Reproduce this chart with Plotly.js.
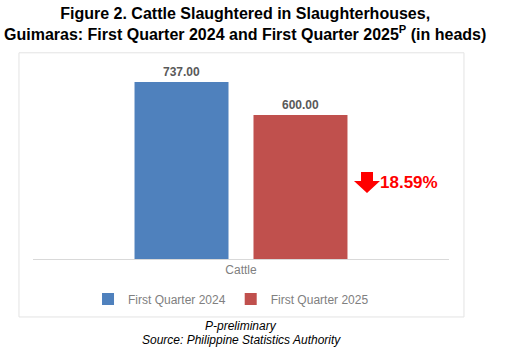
<!DOCTYPE html>
<html>
<head>
<meta charset="utf-8">
<script src="https://cdn.plot.ly/plotly-3.0.1.min.js"></script>
<style>html,body{margin:0;padding:0;background:#fff;}#chart{width:514px;height:364px;}</style>
</head>
<body>
<div id="chart"></div>
<script>
const categories = ["Cattle"];
const seriesNames = ["First Quarter 2024", "First Quarter 2025"];
const values2024 = [737];
const values2025 = [600];
const seriesColors = ["#4F81BD", "#C0504D"];
const changeLabel = "18.59%";

const traces = [
  {type: 'bar', name: seriesNames[0], x: categories, y: values2024, marker: {color: seriesColors[0]},
   texttemplate: '<b>%{y:.2f}</b>', textposition: 'outside', cliponaxis: false,
   textfont: {family: 'Arial, Liberation Sans', size: 12, color: '#595959'}, hoverinfo: 'none'},
  {type: 'bar', name: seriesNames[1], x: categories, y: values2025, marker: {color: seriesColors[1]},
   texttemplate: '<b>%{y:.2f}</b>', textposition: 'outside', cliponaxis: false,
   textfont: {family: 'Arial, Liberation Sans', size: 12, color: '#595959'}, hoverinfo: 'none'}
];

const layout = {
  width: 514, height: 364,
  margin: {l: 33, r: 65, t: 67, b: 105},
  paper_bgcolor: '#ffffff', plot_bgcolor: '#ffffff',
  font: {family: 'Arial, Liberation Sans, sans-serif', color: '#7f7f7f'},
  barmode: 'group', bargap: 0.428, bargroupgap: 0.21,
  xaxis: {range: [-0.5, 0.5], showline: true, linecolor: '#d9d9d9', linewidth: 1, ticks: '',
          tickfont: {size: 12, color: '#7f7f7f'}, showgrid: false, fixedrange: true},
  yaxis: {range: [0, 800], visible: false, showgrid: false, zeroline: false, fixedrange: true},
  showlegend: true,
  legend: {orientation: 'h', x: 0.476, xanchor: 'center', y: -0.208, yanchor: 'middle',
           font: {size: 12, color: '#808080'}, itemwidth: 30, traceorder: 'normal'},
  shapes: [
    {type: 'rect', xref: 'paper', yref: 'paper', x0: -0.0337, x1: 1.036, y0: -0.302, y1: 1.074,
     line: {color: '#e3e3e3', width: 1}, fillcolor: 'rgba(0,0,0,0)', layer: 'below'},
    {type: 'path', xref: 'paper', yref: 'paper',
     path: 'M0.7885,0.4531 L0.8173,0.4531 L0.8173,0.4063 L0.8341,0.4063 L0.8029,0.3438 L0.7716,0.4063 L0.7885,0.4063 Z',
     fillcolor: '#FF0000', line: {width: 0}}
  ],
  annotations: [
    {text: '<b>Figure 2. Cattle Slaughtered in Slaughterhouses,<br>Guimaras: First Quarter 2024 and First Quarter 2025<sup>P</sup> (in heads)</b>',
     xref: 'paper', yref: 'paper', x: 0.51, y: 1.224, xanchor: 'center', yanchor: 'middle', showarrow: false,
     font: {family: 'Arial, Liberation Sans', size: 16, color: '#000000'}},
    {text: '<b>' + changeLabel + '</b>', xref: 'paper', yref: 'paper', x: 0.905, y: 0.396,
     xanchor: 'center', yanchor: 'middle', showarrow: false,
     font: {family: 'Arial, Liberation Sans', size: 17, color: '#FF0000'}},
    {text: '<i>P-preliminary</i>', xref: 'paper', yref: 'paper', x: 0.5, y: -0.349,
     xanchor: 'center', yanchor: 'middle', showarrow: false,
     font: {family: 'Arial, Liberation Sans', size: 12, color: '#000000'}},
    {text: '<i>Source: Philippine Statistics Authority</i>', xref: 'paper', yref: 'paper', x: 0.5, y: -0.422,
     xanchor: 'center', yanchor: 'middle', showarrow: false,
     font: {family: 'Arial, Liberation Sans', size: 12, color: '#000000'}}
  ]
};

Plotly.newPlot('chart', traces, layout, {displayModeBar: false, staticPlot: true});
</script>
</body>
</html>
